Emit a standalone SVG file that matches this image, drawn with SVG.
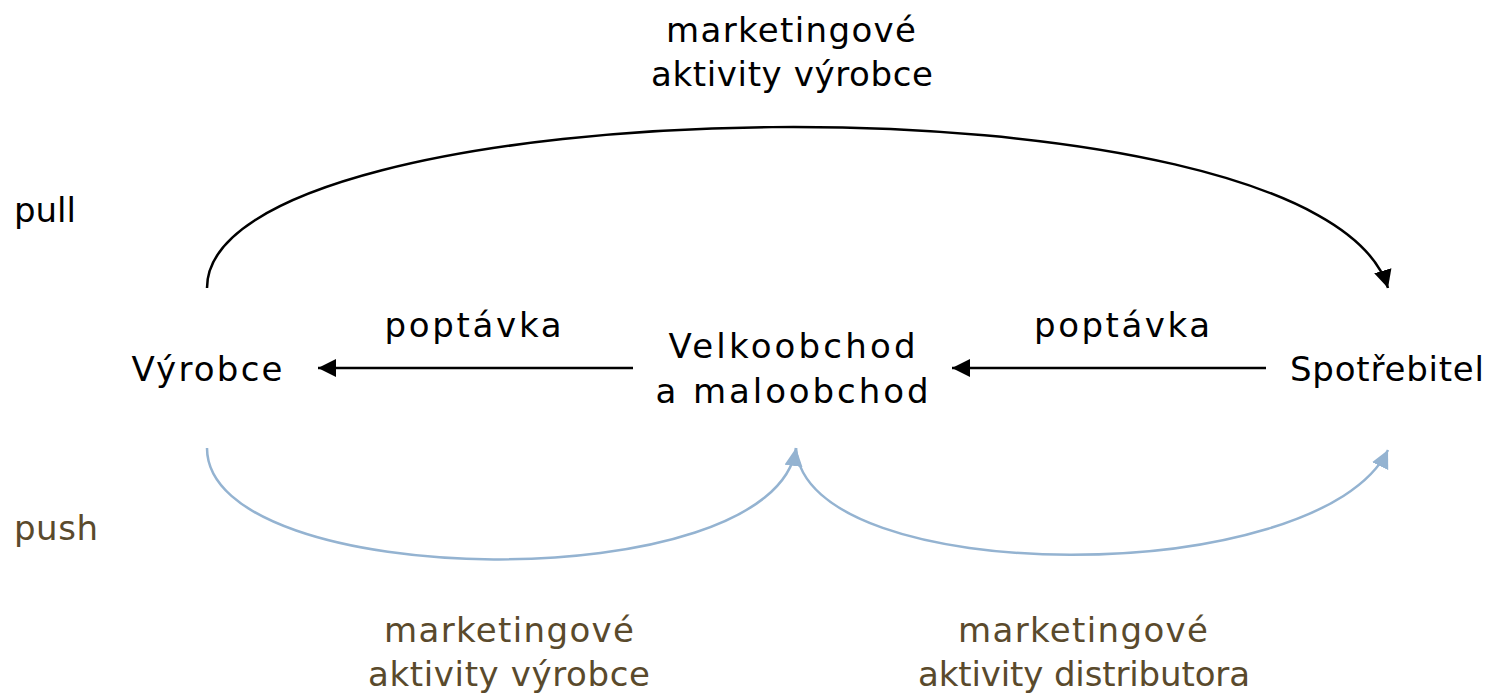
<svg xmlns="http://www.w3.org/2000/svg" width="1490" height="694" viewBox="0 0 1490 694">
<style>
text{font-family:"DejaVu Sans","Liberation Sans",sans-serif;font-size:34px;fill:#000;text-anchor:middle}
.br{fill:#5A4A2C}
.k{fill:none;stroke:#000;stroke-width:2.5}
.b{fill:none;stroke:#94B3D1;stroke-width:2.5}
</style>
<defs>
<marker id="ak" markerUnits="userSpaceOnUse" markerWidth="20" markerHeight="18" refX="18" refY="9" orient="auto"><path d="M0,0 L18,9 L0,18 Z" fill="#000"/></marker>
<marker id="ab" markerUnits="userSpaceOnUse" markerWidth="20" markerHeight="18" refX="18" refY="9" orient="auto"><path d="M0,0 L18,9 L0,18 Z" fill="#94B3D1"/></marker>
</defs>
<g id="connectors">
<path class="k" d="M207,288 C207,84 1320,63 1388,288" marker-end="url(#ak)"/>
<path class="k" d="M633,368 L318,368" marker-end="url(#ak)"/>
<path class="k" d="M1266,368 L952,368" marker-end="url(#ak)"/>
<path class="b" d="M207,448 C207,593 775,600 796,448" marker-end="url(#ab)"/>
<path class="b" d="M796,448 C805,590 1320,590 1388,450" marker-end="url(#ab)"/>
</g>
<g id="label-top">
<text x="791" y="42" textLength="250">marketingové</text>
<text x="792" y="86" textLength="282">aktivity výrobce</text>
</g>
<g id="label-pull"><text x="14" y="222" style="text-anchor:start" textLength="62">pull</text></g>
<g id="label-push"><text class="br" x="14" y="540" style="text-anchor:start" textLength="84">push</text></g>
<g id="node-vyrobce"><text x="207" y="381" textLength="151">Výrobce</text></g>
<g id="label-poptavka-left"><text x="473" y="337" textLength="177">poptávka</text></g>
<g id="node-velkoobchod">
<text x="792" y="358" textLength="247">Velkoobchod</text>
<text x="792" y="403" textLength="273">a maloobchod</text>
</g>
<g id="label-poptavka-right"><text x="1122" y="337" textLength="176">poptávka</text></g>
<g id="node-spotrebitel"><text x="1387" y="381" textLength="194">Spotřebitel</text></g>
<g id="label-bottom-left">
<text class="br" x="509" y="642" textLength="250">marketingové</text>
<text class="br" x="509" y="686" textLength="282">aktivity výrobce</text>
</g>
<g id="label-bottom-right">
<text class="br" x="1083" y="642" textLength="250">marketingové</text>
<text class="br" x="1084" y="686" textLength="332">aktivity distributora</text>
</g>
</svg>
